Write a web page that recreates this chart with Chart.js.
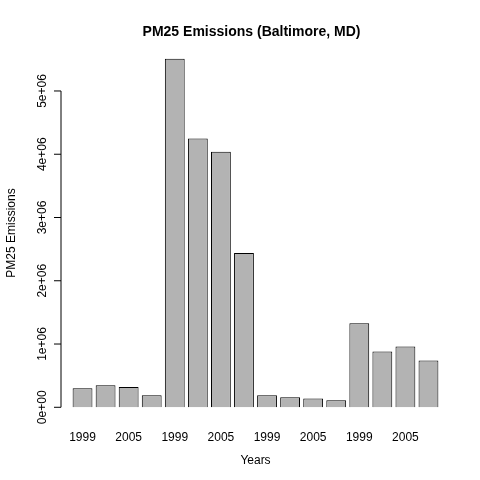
<!DOCTYPE html>
<html><head>
<script src="https://cdn.jsdelivr.net/npm/chart.js@4"></script>
<style>body{margin:0;background:#fff}</style>
</head><body>
<div style="width:480px;height:480px"><canvas id="c"></canvas></div>
<script>
const years = ["1999","2002","2005","2008"];
const labels = [].concat(years, years, years, years);
const values = [0.30e6,0.35e6,0.32e6,0.19e6, 5.51e6,4.25e6,4.04e6,2.44e6, 0.19e6,0.16e6,0.14e6,0.11e6, 1.33e6,0.88e6,0.96e6,0.74e6];
const yTicks = [0,1e6,2e6,3e6,4e6,5e6];
const yTickLabels = ["0e+00","1e+06","2e+06","3e+06","4e+06","5e+06"];
const FONT = "'Liberation Sans', Arial, sans-serif";

const yAxisPlugin = {
  id: "yaxis",
  afterDraw(chart){
    const ctx = chart.ctx, y = chart.scales.y, x0 = chart.chartArea.left - 10;
    ctx.save();
    ctx.strokeStyle = "#000"; ctx.lineWidth = 1;
    ctx.beginPath();
    ctx.moveTo(x0, y.getPixelForValue(yTicks[0]));
    ctx.lineTo(x0, y.getPixelForValue(yTicks[yTicks.length-1]));
    yTicks.forEach(v => { const p = y.getPixelForValue(v); ctx.moveTo(x0, p); ctx.lineTo(x0-7, p); });
    ctx.stroke();
    ctx.fillStyle = "#000"; ctx.font = "12px " + FONT;
    ctx.textAlign = "center"; ctx.textBaseline = "middle";
    yTicks.forEach((v,i) => {
      ctx.save(); ctx.translate(x0-18, y.getPixelForValue(v)); ctx.rotate(-Math.PI/2);
      ctx.fillText(yTickLabels[i], 0, 0); ctx.restore();
    });
    ctx.save(); ctx.translate(12, (chart.chartArea.top+chart.chartArea.bottom)/2); ctx.rotate(-Math.PI/2);
    ctx.fillText("PM25 Emissions", 0, 0); ctx.restore();
    ctx.restore();
  }
};

new Chart(document.getElementById("c"), {
  type: "bar",
  data: { labels, datasets: [{ data: values, backgroundColor: "#b3b3b3", borderColor: "#000", borderWidth: 1, barPercentage: 0.86, categoryPercentage: 1 }] },
  options: {
    responsive: true, maintainAspectRatio: false, animation: false,
    layout: { padding: { left: 63, right: 40, bottom: 12 } },
    plugins: {
      legend: { display: false }, tooltip: { enabled: false },
      title: { display: true, text: "PM25 Emissions (Baltimore, MD)", color: "#000",
        font: { family: FONT, size: 14, weight: "bold" }, padding: { top: 24, bottom: 4 } }
    },
    scales: {
      x: {
        grid: { display: false, drawTicks: false }, border: { display: false },
        ticks: { color: "#000", font: { family: FONT, size: 12 }, autoSkip: false, maxRotation: 0, padding: 9,
          callback: (v, i) => (i % 2 === 0 ? labels[i] : "") },
        title: { display: true, text: "Years", color: "#000", font: { family: FONT, size: 12 }, padding: { top: 0, bottom: 0 } }
      },
      y: {
        min: -0.22e6, max: 5.73e6,
        grid: { display: false }, border: { display: false },
        ticks: { display: false }
      }
    }
  },
  plugins: [yAxisPlugin]
});
</script>
</body></html>
